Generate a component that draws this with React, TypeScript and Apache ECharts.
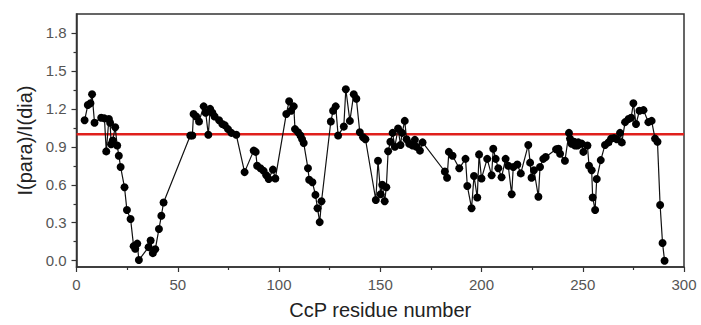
import React, { useEffect, useRef } from "react";
import * as echarts from "echarts";

const residues: number[] = [
  4, 5.6, 6.9, 7.7, 8.9, 12.2, 13.8, 14.7, 16, 16.6, 17.1, 17.9, 19.1, 20.1, 20.9, 21.8, 23.7, 24.9, 26.7, 28.2, 29, 30, 30.8,
  35.6, 36.6, 37.7, 38.9, 40.7, 41.9, 43,
  56.2, 57.2, 57.8, 59.1, 60.5, 62.8, 63.8, 65.1, 66, 67.1, 68.2, 70.4, 72, 73.2, 74.8, 76.5, 78.9,
  83, 87.5, 88.5, 89.2, 90.8, 92.4, 93.7, 94.9, 97, 98.2,
  103.6, 105, 106, 107.3, 107.9, 109.4, 110.6, 111.4, 112.2, 114.3, 114.9, 116.5, 118, 119, 120.1, 121,
  125.6, 126.7, 128, 129.2, 132, 133, 135, 136.9, 138.2, 139.9, 141.5, 142.7,
  147.8, 148.9, 150.2, 151, 152.2, 153, 153.9, 155, 156.1, 157.2, 158.8, 160, 160.8, 162.1, 163, 164.3, 166, 167.1, 167.9, 169.6, 170.9,
  181.9, 183, 183.9, 185.7, 189, 192.1, 193, 195.1, 196.3, 197.9, 198.8, 200, 202.8, 205, 205.8, 207, 208.3, 209.9, 211.9, 213.2,
  214.9, 215.7, 217.7, 219.4, 223.1, 224, 224.7, 225.9, 228.1, 228.9, 230.5, 231.7, 236.8, 238, 238.8, 241.2, 243.2, 243.7, 244.5,
  245.7, 246.2, 247.4, 247.8, 249.5, 250.3, 252.3, 253.1, 254.4, 254.9, 256.1, 256.9, 258.9, 261, 262.7, 264, 265.5, 266.8, 268.4,
  269.3, 270.9, 272.6, 273.9, 275, 276.3, 278, 280, 282.4, 284, 285.7, 286.9, 288.2, 289.4, 290.4,
];

const ratios: number[] = [
  1.11, 1.23, 1.245, 1.315, 1.09, 1.13, 1.125, 0.864, 1.12, 1.09, 0.92, 0.95, 1.055, 0.91, 0.83, 0.74, 0.58, 0.4, 0.33, 0.115, 0.094, 0.135, 0.005,
  0.107, 0.16, 0.06, 0.09, 0.25, 0.355, 0.46,
  0.99, 0.99, 1.16, 1.14, 1.1, 1.22, 1.17, 0.995, 1.2, 1.17, 1.14, 1.11, 1.08, 1.07, 1.04, 1.01, 0.995,
  0.7, 0.87, 0.86, 0.75, 0.73, 0.71, 0.675, 0.645, 0.72, 0.65,
  1.16, 1.26, 1.185, 1.22, 1.04, 1.015, 0.99, 0.96, 0.93, 0.73, 0.64, 0.62, 0.52, 0.415, 0.305, 0.47,
  1.1, 1.185, 1.22, 0.99, 1.06, 1.355, 1.105, 1.315, 1.28, 1.015, 0.975, 0.96,
  0.48, 0.79, 0.525, 0.6, 0.47, 0.58, 0.865, 0.94, 1.01, 0.9, 1.045, 0.915, 1.01, 1.105, 0.96, 0.925, 0.91, 0.955, 0.9, 0.87, 0.935,
  0.705, 0.655, 0.86, 0.83, 0.73, 0.805, 0.59, 0.415, 0.67, 0.5, 0.84, 0.65, 0.805, 0.675, 0.885, 0.805, 0.73, 0.66, 0.805, 0.75,
  0.525, 0.74, 0.76, 0.69, 0.915, 0.775, 0.655, 0.715, 0.505, 0.74, 0.805, 0.82, 0.88, 0.885, 0.845, 0.79, 1.01, 0.965, 0.925,
  0.94, 0.91, 0.91, 0.935, 0.925, 0.86, 0.91, 0.75, 0.715, 0.5, 0.4, 0.645, 0.795, 0.915, 0.935, 0.965, 0.97, 0.96, 1.01,
  0.935, 1.095, 1.12, 1.13, 1.245, 1.08, 1.185, 1.19, 1.095, 1.105, 0.965, 0.94, 0.44, 0.14, 0.0,
];

const referenceLevel = 1.0;
const referenceSpan = [0, 300];
const yMajorTicks = [0, 0.3, 0.6, 0.9, 1.2, 1.5, 1.8];
const yMinorTicks = [0.15, 0.45, 0.75, 1.05, 1.35, 1.65];

const FONT = "'Liberation Sans', Arial, sans-serif";

export default function App() {
  const ref = useRef<HTMLDivElement>(null);
  useEffect(() => {
    document.body.style.margin = "0";
    if (!ref.current) return;
    const chart = echarts.init(ref.current, undefined, { renderer: "svg" });
    const points = residues.map((r, i) => [r, ratios[i]]);
    const refLine = referenceSpan.map((x) => [x, referenceLevel]);
    const axisColor = "#333";
    chart.setOption({
      animation: false,
      grid: {
        left: 76.5,
        right: 17,
        top: 14,
        bottom: 55.6,
        show: true,
        borderColor: axisColor,
        borderWidth: 1.5,
        backgroundColor: "transparent",
      },
      xAxis: {
        type: "value",
        min: 0,
        max: 300,
        interval: 50,
        name: "CcP residue number",
        nameLocation: "middle",
        nameGap: 33,
        nameTextStyle: { fontFamily: FONT, fontSize: 20, color: "#222" },
        axisLine: { show: true, onZero: false, lineStyle: { color: axisColor, width: 1.5 } },
        axisTick: { show: true, inside: false, length: 5, lineStyle: { color: axisColor, width: 1.2 } },
        minorTick: { show: true, splitNumber: 2, length: 3, lineStyle: { color: axisColor, width: 1.2 } },
        axisLabel: { margin: 10, fontFamily: FONT, fontSize: 15, color: "#555" },
        splitLine: { show: false },
        minorSplitLine: { show: false },
      },
      yAxis: [
        {
          type: "value",
          min: -0.05,
          max: 1.95,
          name: "I(para)/I(dia)",
          nameLocation: "middle",
          nameGap: 40,
          nameTextStyle: { fontFamily: FONT, fontSize: 20, color: "#222" },
          axisLine: { show: true, onZero: false, lineStyle: { color: axisColor, width: 1.5 } },
          axisTick: { show: true, length: 5, customValues: yMajorTicks, lineStyle: { color: axisColor, width: 1.2 } },
          axisLabel: {
            margin: 10,
            fontFamily: FONT,
            fontSize: 15,
            color: "#555",
            customValues: yMajorTicks,
            formatter: (v: number) => v.toFixed(1),
          },
          splitLine: { show: false },
        },
        {
          type: "value",
          min: -0.05,
          max: 1.95,
          position: "left",
          offset: 0,
          axisLine: { show: false },
          axisTick: { show: true, length: 3, customValues: yMinorTicks, lineStyle: { color: axisColor, width: 1.2 } },
          axisLabel: { show: false },
          splitLine: { show: false },
        },
      ],
      series: [
        {
          type: "line",
          data: refLine,
          symbol: "none",
          lineStyle: { color: "#e0201c", width: 2.5 },
          silent: true,
          z: 1,
        },
        {
          type: "line",
          data: points,
          symbol: "circle",
          symbolSize: 8,
          itemStyle: { color: "#000" },
          lineStyle: { color: "#111", width: 1.2 },
          z: 3,
        },
      ],
    });
    return () => chart.dispose();
  }, []);
  return <div ref={ref} style={{ width: 701, height: 325 }} />;
}
